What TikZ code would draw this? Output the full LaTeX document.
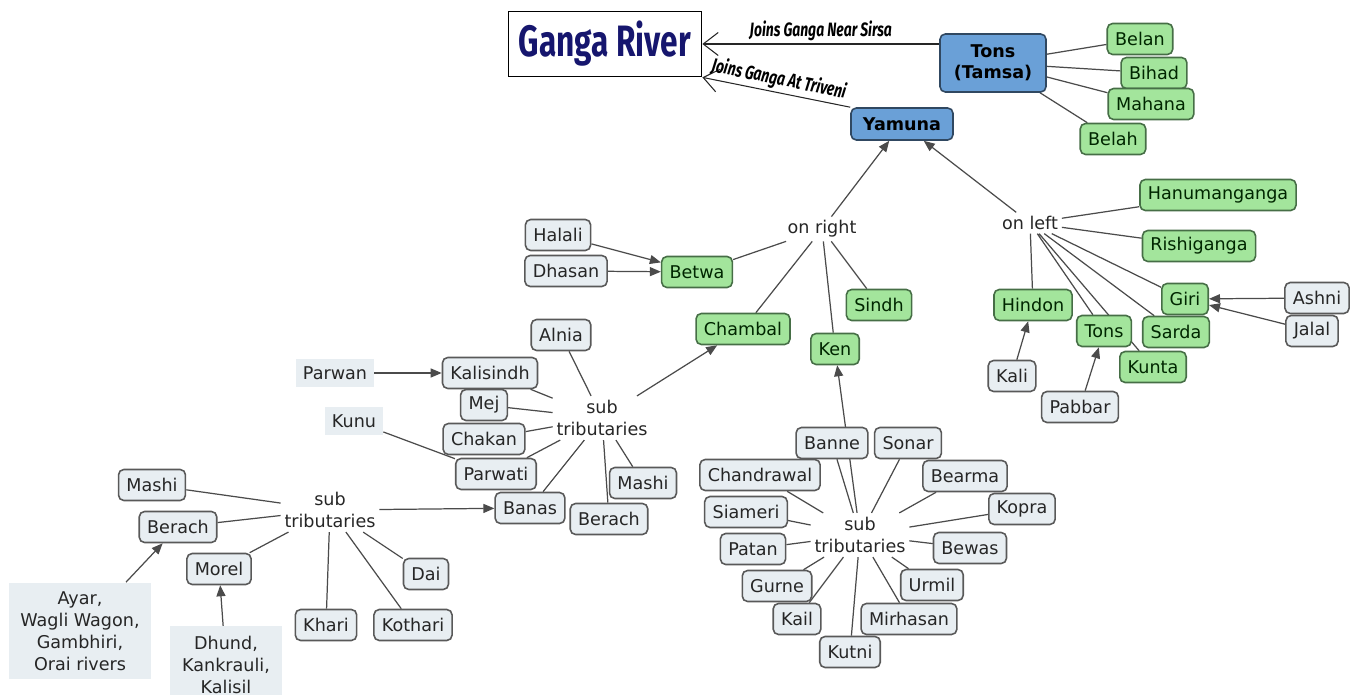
\documentclass[tikz,border=0pt]{standalone}
\usepackage{fontspec}
\setmainfont{DejaVu Sans}
\newfontfamily\gangafont[FakeStretch=0.72]{Fira Sans}
\usepackage{xcolor}
\usepackage{tikz}
\usetikzlibrary{arrows.meta,positioning,backgrounds}
\definecolor{tribgreen}{RGB}{163,229,156}
\definecolor{tribedge}{RGB}{70,110,70}
\definecolor{feedgray}{RGB}{232,238,242}
\definecolor{mainblue}{RGB}{106,160,215}
\definecolor{gangablue}{RGB}{22,22,110}
\definecolor{linkgray}{RGB}{75,75,75}

\begin{document}
\begin{tikzpicture}[x=0.02cm, y=-0.02cm,
  every node/.style={font=\fontsize{10}{12}\selectfont},
  river/.style={draw=black, line width=1pt, fill=white,
                minimum width=3.86cm, minimum height=1.3cm, text=gangablue,
                font=\gangafont\bfseries\fontsize{25}{28}\selectfont},
  mainriver/.style={draw=mainblue!45!black, fill=mainblue, line width=0.9pt,
                rounded corners=3pt, align=center,
                font=\bfseries\fontsize{10}{12}\selectfont},
  trib/.style={draw=tribedge, fill=tribgreen, line width=0.9pt,
               rounded corners=3pt, minimum height=0.62cm, inner xsep=4.5pt,
               text=black!85!green},
  feeder/.style={draw=black!65, fill=feedgray, line width=0.9pt,
                 rounded corners=3pt, minimum height=0.62cm, inner xsep=4.5pt,
                 text=black!85},
  loose/.style={fill=feedgray, inner sep=4pt, align=center, text=black!85,
                font=\fontsize{10}{12.5}\selectfont},
  hub/.style={align=center, inner sep=2pt, text=black!85,
              font=\fontsize{10}{13}\selectfont},
  link/.style={draw=linkgray, line width=0.7pt},
  flow/.style={link, -{Triangle[length=2.2mm,width=1.8mm]}},
  joins/.style={draw=black!85, line width=0.6pt,
                {Straight Barb[length=3mm,width=4.6mm]}-},
  joinlabel/.style={inner sep=1.5pt,
                    font=\gangafont\bfseries\itshape\fontsize{11}{13}\selectfont}]

  \useasboundingbox (0,0) rectangle (1361,695);

  % main rivers
  \node[river] (ganga) at (605,44) {Ganga River};
  \node[mainriver, minimum width=2.12cm, minimum height=1.16cm] (tamsa) at (993,63) {Tons\\(Tamsa)};
  \node[mainriver, minimum width=2.04cm, minimum height=0.64cm] (yamuna) at (902,124) {Yamuna};

  \node[trib] (belan)  at (1140,39)  {Belan};
  \node[trib] (bihad)  at (1154,73)  {Bihad};
  \node[trib] (mahana) at (1151,104) {Mahana};
  \node[trib] (belah)  at (1113,139) {Belah};

  % tributaries of the Yamuna
  \node[hub] (onright) at (822,229)  {on right};
  \node[hub] (onleft)  at (1030,223) {on left};

  \node[trib] (betwa)   at (697,272) {Betwa};
  \node[trib] (sindh)   at (879,305) {Sindh};
  \node[trib] (chambal) at (743,329) {Chambal};
  \node[trib] (ken)     at (835,349) {Ken};

  \node[trib] (hanumanganga) at (1218,195) {Hanumanganga};
  \node[trib] (rishiganga)   at (1199,246) {Rishiganga};
  \node[trib] (giri)         at (1185,299) {Giri};
  \node[trib] (hindon)       at (1033,305) {Hindon};
  \node[trib] (tonsleft)     at (1104,331) {Tons};
  \node[trib] (sarda)        at (1176,332) {Sarda};
  \node[trib] (kunta)        at (1153,367) {Kunta};

  \node[feeder] (ashni)  at (1317,298) {Ashni};
  \node[feeder] (jalal)  at (1312,331) {Jalal};
  \node[feeder] (kali)   at (1012,376) {Kali};
  \node[feeder] (pabbar) at (1080,407) {Pabbar};
  \node[feeder] (halali) at (558,235)  {Halali};
  \node[feeder] (dhasan) at (566,271)  {Dhasan};

  % Chambal group
  \node[hub] (subchambal) at (602,418) {sub\\tributaries};
  \node[feeder] (alnia)     at (561,335) {Alnia};
  \node[feeder] (kalisindh) at (490,373) {Kalisindh};
  \node[feeder] (mej)       at (484,405) {Mej};
  \node[feeder] (chakan)    at (484,439) {Chakan};
  \node[feeder] (parwati)   at (496,474) {Parwati};
  \node[feeder] (mashimid)  at (643,483) {Mashi};
  \node[feeder] (banas)     at (530,508) {Banas};
  \node[feeder] (berachmid) at (609,519) {Berach};
  \node[loose] (parwan) at (335,373) {Parwan};
  \node[loose] (kunu)   at (354,421) {Kunu};

  % Banas group
  \node[hub] (subbanas) at (330,510) {sub\\tributaries};
  \node[feeder] (mashileft)  at (152,485) {Mashi};
  \node[feeder] (berachleft) at (178,527) {Berach};
  \node[feeder] (morel)      at (219,569) {Morel};
  \node[feeder] (dai)        at (426,574) {Dai};
  \node[feeder] (khari)      at (326,625) {Khari};
  \node[feeder] (kothari)    at (413,625) {Kothari};
  \node[loose, minimum width=2.84cm, minimum height=1.94cm] (ayar) at (80,631)
    {Ayar,\\Wagli Wagon,\\Gambhiri,\\Orai rivers};
  \node[loose, minimum width=2.26cm, minimum height=1.55cm] (dhund) at (226,665)
    {Dhund,\\Kankrauli,\\Kalisil};

  % Ken group
  \node[hub] (subken) at (860,535) {sub\\tributaries};
  \node[feeder] (banne)      at (832,443) {Banne};
  \node[feeder] (sonar)      at (908,443) {Sonar};
  \node[feeder] (chandrawal) at (760,475) {Chandrawal};
  \node[feeder] (bearma)     at (965,476) {Bearma};
  \node[feeder] (siameri)    at (746,512) {Siameri};
  \node[feeder] (kopra)      at (1022,509) {Kopra};
  \node[feeder] (patan)      at (753,549) {Patan};
  \node[feeder] (bewas)      at (970,548) {Bewas};
  \node[feeder] (gurne)      at (777,586) {Gurne};
  \node[feeder] (urmil)      at (932,585) {Urmil};
  \node[feeder] (kail)       at (797,619) {Kail};
  \node[feeder] (mirhasan)   at (909,619) {Mirhasan};
  \node[feeder] (kutni)      at (850,652) {Kutni};

  \begin{scope}[on background layer]
    % into the Ganga
    \draw[joins] (ganga.east) -- node[joinlabel, above] {Joins Ganga Near Sirsa}
      (ganga.east -| tamsa.west);
    \draw[joins] (ganga.south east) -- node[joinlabel, above, sloped] {Joins Ganga At Triveni}
      (yamuna.north west);

    \draw[link] (tamsa) -- (belan) (tamsa) -- (bihad) (tamsa) -- (mahana) (tamsa) -- (belah);

    % into the Yamuna
    \draw[flow] (onright) -- (yamuna);
    \draw[flow] (onleft) -- (yamuna);
    \draw[link] (onright) -- (betwa) (onright) -- (chambal) (onright) -- (ken) (onright) -- (sindh);
    \draw[link] (onleft) -- (hanumanganga) (onleft) -- (rishiganga) (onleft) -- (giri)
      (onleft) -- (sarda) (onleft) -- (kunta) (onleft) -- (tonsleft) (onleft) -- (hindon);

    \draw[flow] (halali) -- (betwa);
    \draw[flow] (dhasan) -- (betwa);
    \draw[flow] (ashni) -- (giri);
    \draw[flow] (jalal) -- (giri);
    \draw[flow] (kali) -- (hindon);
    \draw[flow] (pabbar) -- (tonsleft);

    % sub tributaries
    \draw[flow] (subchambal) -- (chambal);
    \draw[link] (subchambal) -- (alnia) (subchambal) -- (kalisindh) (subchambal) -- (mej)
      (subchambal) -- (chakan) (subchambal) -- (parwati) (subchambal) -- (banas)
      (subchambal) -- (berachmid) (subchambal) -- (mashimid);
    \draw[flow] (parwan) -- (kalisindh);
    \draw[link] (kunu) -- (parwati);

    \draw[flow] (subbanas) -- (banas);
    \draw[link] (subbanas) -- (mashileft) (subbanas) -- (berachleft) (subbanas) -- (morel)
      (subbanas) -- (khari) (subbanas) -- (kothari) (subbanas) -- (dai);
    \draw[flow] (ayar) -- (berachleft);
    \draw[flow] (dhund) -- (morel);

    \draw[flow] (subken) -- (ken);
    \draw[link] (subken) -- (banne) (subken) -- (sonar) (subken) -- (chandrawal)
      (subken) -- (bearma) (subken) -- (siameri) (subken) -- (kopra)
      (subken) -- (patan) (subken) -- (bewas) (subken) -- (gurne)
      (subken) -- (urmil) (subken) -- (kail) (subken) -- (mirhasan) (subken) -- (kutni);
  \end{scope}
\end{tikzpicture}
\end{document}
